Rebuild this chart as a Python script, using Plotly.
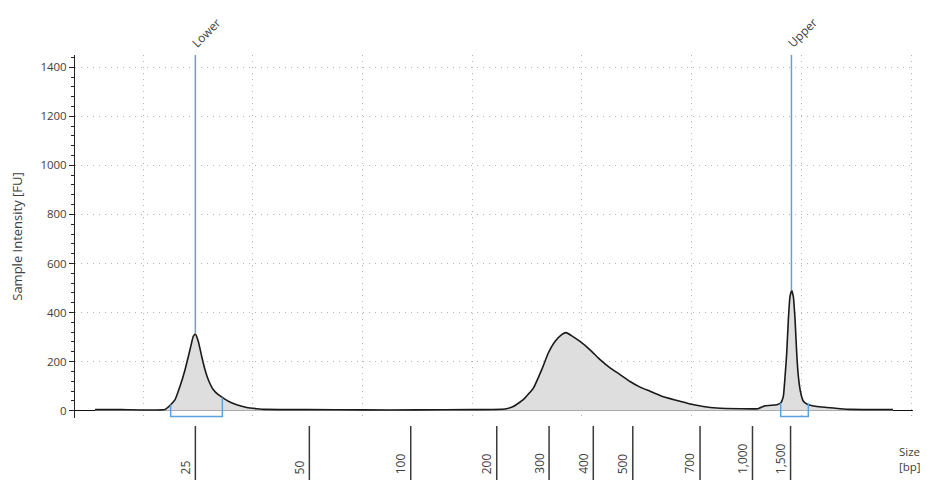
import plotly.graph_objects as go

# ---- data (migration time in s, intensity in FU) ----
time_s = [35.62, 38.0, 42.01, 42.52, 42.92, 43.37, 43.83, 44.28, 44.58, 44.77, 45.04, 45.35,
          45.65, 45.95, 46.41, 46.86, 47.23, 47.78, 48.54, 49.45, 50.36, 51.12, 55.0, 60.0,
          65.0, 70.0, 72.99, 73.75, 74.66, 75.58, 76.34, 76.94, 77.55, 78.16, 78.56, 79.08,
          79.83, 80.74, 81.66, 82.57, 83.48, 84.39, 85.30, 86.21, 87.12, 88.04, 88.95, 89.86,
          91.07, 92.29, 94.42, 96.06, 96.70, 97.76, 98.12, 98.36, 98.52, 98.67, 98.82, 98.97,
          99.13, 99.27, 99.43, 99.58, 99.73, 99.95, 100.19, 100.64, 101.41, 102.32, 103.53,
          104.44, 108.36]
intensity_fu = [4, 4, 5, 24, 45, 99, 167, 248, 303, 312, 282, 221, 167, 126, 85, 65, 54, 38,
                24, 13, 8, 5, 4, 3, 3, 4, 7, 17, 45, 92, 167, 235, 282, 310, 318, 305, 282,
                248, 208, 174, 147, 119, 96, 79, 62, 49, 38, 27, 17, 11, 8, 8, 20, 24, 31, 58,
                140, 235, 371, 466, 490, 466, 371, 235, 140, 72, 38, 24, 17, 13, 8, 5, 4]

ladder_time = [44.77, 55.16, 64.40, 72.24, 77.01, 81.04, 84.64, 90.77, 95.55, 99.02]
ladder_labels = ["25", "50", "100", "200", "300", "400", "500", "700", "1,000", "1,500"]

marker_names = ["Lower", "Upper"]
marker_time = [44.77, 99.10]
marker_peak = [312, 490]

# peak integration windows: (start, end, value at start, value at end)
window_start = [42.52, 98.12]
window_end = [47.23, 100.64]
window_start_val = [24, 31]
window_end_val = [54, 30]
window_floor = -24

y_max = 1450
blue = "#5ba3e0"
txt = "#404040"
font_family = "Open Sans, Noto Sans, DejaVu Sans, sans-serif"

fig = go.Figure()

fig.add_trace(go.Scatter(
    x=time_s, y=intensity_fu, mode="lines",
    line=dict(color="#1a1a1a", width=1.6, shape="spline", smoothing=0.4),
    fill="tozeroy", fillcolor="#dedede", hoverinfo="skip", showlegend=False))

# integration brackets
for xs, xe, vs, ve in zip(window_start, window_end, window_start_val, window_end_val):
    fig.add_trace(go.Scatter(
        x=[xs, xs, xe, xe], y=[vs, window_floor, window_floor, ve], mode="lines",
        line=dict(color=blue, width=1.5), hoverinfo="skip", showlegend=False))

# marker lines
for name, mt, mp in zip(marker_names, marker_time, marker_peak):
    fig.add_trace(go.Scatter(
        x=[mt, mt], y=[mp, y_max], mode="lines",
        line=dict(color=blue, width=1.5), hoverinfo="skip", showlegend=False))
    fig.add_annotation(x=mt, xref="x", y=1, yref="paper", text=name, showarrow=False,
                       textangle=-45, xanchor="left", yanchor="bottom", xshift=-10, yshift=1,
                       font=dict(size=12, color=txt, family=font_family))

# ladder ticks below axis
for lt, lab in zip(ladder_time, ladder_labels):
    fig.add_shape(type="line", xref="x", yref="paper", x0=lt, x1=lt, y0=-0.022, y1=-0.25,
                  line=dict(color="#3a3a3a", width=1.5))
    fig.add_annotation(x=lt, xref="x", y=-0.16, yref="paper", text=lab, showarrow=False,
                       textangle=-90, xanchor="center", yanchor="bottom", xshift=-10,
                       font=dict(size=12, color=txt, family=font_family))

fig.add_annotation(x=1.0, xref="paper", y=-0.113, yref="paper", text="Size<br>[bp]",
                   showarrow=False, xanchor="right", yanchor="middle", align="left",
                   xshift=9, borderpad=0,
                   font=dict(size=11.5, color=txt, family=font_family))

fig.update_layout(
    width=925, height=472,
    margin=dict(l=67, r=20, t=47, b=62, autoexpand=False),
    paper_bgcolor="white", plot_bgcolor="white",
    font=dict(family=font_family, color=txt, size=12),
    showlegend=False,
    xaxis=dict(range=[33.80, 110.18], showline=False, zeroline=False, showticklabels=False,
               ticks="", showgrid=True, tick0=40, dtick=10, gridcolor="#b4b4b4",
               griddash="1px,5px", gridwidth=1),
    yaxis=dict(range=[-30, y_max], tick0=0, dtick=200, showline=True, linecolor="#222",
               linewidth=1, ticks="outside", ticklen=5, tickcolor="#222",
               minor=dict(dtick=40, ticks="outside", ticklen=3, tickcolor="#222", showgrid=False),
               showgrid=True, gridcolor="#b4b4b4", griddash="1px,5px", gridwidth=1,
               zeroline=True, zerolinecolor="#111", zerolinewidth=1.2,
               title=dict(text="Sample Intensity [FU]", font=dict(size=13, color=txt), standoff=14),
               tickfont=dict(size=11.5, color=txt)),
)

fig.write_html("out.html")
